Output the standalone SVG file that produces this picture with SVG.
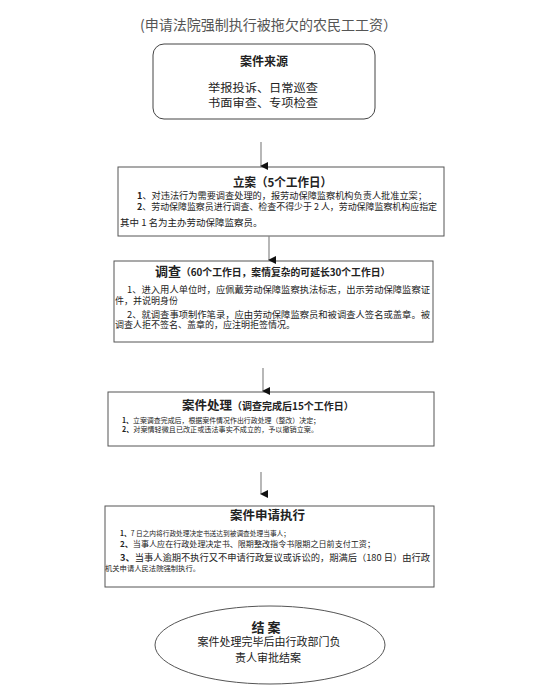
<svg xmlns="http://www.w3.org/2000/svg" width="554" height="687" viewBox="0 0 554 687">
<style>
text{font-family:"Noto Sans CJK SC","Liberation Sans",sans-serif;fill:#222;}
.box{fill:#fff;stroke:#555;stroke-width:1;}
.t{font-weight:bold;}
.b{font-weight:bold;}
.c{text-anchor:middle;}
.conn line{stroke:#888;stroke-width:1.2;}
</style>
<defs>
<marker id="ah" markerWidth="8" markerHeight="8" refX="4" refY="7" orient="auto" markerUnits="userSpaceOnUse" viewBox="0 0 8 8">
<path d="M0,0 L8,0 L4,8 Z" fill="#111"/>
</marker>
</defs>
<rect width="554" height="687" fill="#fff"/>
<text x="140" y="30" font-size="14" style="fill:#555" textLength="257" lengthAdjust="spacingAndGlyphs">(申请法院强制执行被拖欠的农民工工资）</text>

<g id="source">
<rect class="box" x="153" y="44" width="222" height="75" rx="11" style="stroke:#444"/>
<text class="t c" x="264" y="65.5" font-size="12">案件来源</text>
<text class="c" x="263" y="92" font-size="11.5" textLength="110" lengthAdjust="spacingAndGlyphs">举报投诉、日常巡查</text>
<text class="c" x="263" y="106.5" font-size="11.5" textLength="110" lengthAdjust="spacingAndGlyphs">书面审查、专项检查</text>
</g>

<g id="filing">
<rect class="box" x="118" y="167" width="326" height="69"/>
<text class="t" x="233" y="186.5" font-size="12" textLength="99" lengthAdjust="spacingAndGlyphs">立案（5个工作日）</text>
<text x="137" y="198.5" font-size="9" textLength="290" lengthAdjust="spacingAndGlyphs"><tspan class="b">1</tspan>、对违法行为需要调查处理的，报劳动保障监察机构负责人批准立案；</text>
<text x="137" y="209.5" font-size="9" textLength="300" lengthAdjust="spacingAndGlyphs"><tspan class="b">2</tspan>、劳动保障监察员进行调查、检查不得少于 2 人，劳动保障监察机构应指定</text>
<text x="120" y="225.5" font-size="9.5">其中 1 名为主办劳动保障监察员。</text>
</g>

<g id="investigation">
<rect class="box" x="114" y="261" width="319" height="81"/>
<text class="t" x="155" y="275.5" font-size="13">调查<tspan font-size="9.8">（60个工作日，案情复杂的可延长30个工作日）</tspan></text>
<text x="127" y="292.5" font-size="9" textLength="303" lengthAdjust="spacingAndGlyphs">1、进入用人单位时，应佩戴劳动保障监察执法标志，出示劳动保障监察证</text>
<text x="115" y="303.5" font-size="9">件，并说明身份</text>
<text x="127" y="317.5" font-size="9" textLength="303" lengthAdjust="spacingAndGlyphs">2、就调查事项制作笔录，应由劳动保障监察员和被调查人签名或盖章。被</text>
<text x="115" y="328" font-size="9">调查人拒不签名、盖章的，应注明拒签情况。</text>
</g>

<g id="handling">
<rect class="box" x="108" y="392" width="326" height="54"/>
<text class="t" x="182" y="410" font-size="12.5">案件处理<tspan font-size="10">（调查完成后15个工作日）</tspan></text>
<text x="122" y="422.7" font-size="7.2" textLength="198" lengthAdjust="spacingAndGlyphs"><tspan class="b">1、</tspan>立案调查完成后，根据案件情况作出行政处理（整改）决定；</text>
<text x="122" y="432" font-size="7.2" textLength="196" lengthAdjust="spacingAndGlyphs"><tspan class="b">2、</tspan>对案情轻微且已改正或违法事实不成立的，予以撤销立案。</text>
</g>

<g id="enforcement">
<rect class="box" x="105" y="506" width="329" height="81"/>
<text class="t c" x="267.5" y="520" font-size="12.5">案件申请执行</text>
<text x="120" y="535.7" font-size="7.2" textLength="170" lengthAdjust="spacingAndGlyphs"><tspan class="b">1、</tspan>7 日之内将行政处理决定书送达到被调查处理当事人；</text>
<text x="120" y="547" font-size="8" textLength="255" lengthAdjust="spacingAndGlyphs"><tspan class="b">2、</tspan>当事人应在行政处理决定书、限期整改指令书限期之日前支付工资；</text>
<text x="120" y="560.5" font-size="9" textLength="310" lengthAdjust="spacingAndGlyphs"><tspan class="b">3、</tspan>当事人逾期不执行又不申请行政复议或诉讼的，期满后（180 日）由行政</text>
<text x="105" y="571" font-size="7.3" textLength="95" lengthAdjust="spacingAndGlyphs">机关申请人民法院强制执行。</text>
</g>

<g id="close">
<ellipse class="box" cx="270" cy="645" rx="115" ry="39"/>
<text class="t c" x="266" y="632" font-size="13">结 案</text>
<text class="c" x="269" y="646" font-size="11">案件处理完毕后由行政部门负</text>
<text class="c" x="268" y="662" font-size="11">责人审批结案</text>
</g>

<g class="conn" id="connectors">
<line x1="261" y1="142" x2="261" y2="166" marker-end="url(#ah)"/>
<line x1="269" y1="236" x2="269" y2="260" marker-end="url(#ah)"/>
<line x1="263" y1="368" x2="263" y2="391" marker-end="url(#ah)"/>
<line x1="261" y1="472" x2="261" y2="494" marker-end="url(#ah)"/>
</g>
</svg>
